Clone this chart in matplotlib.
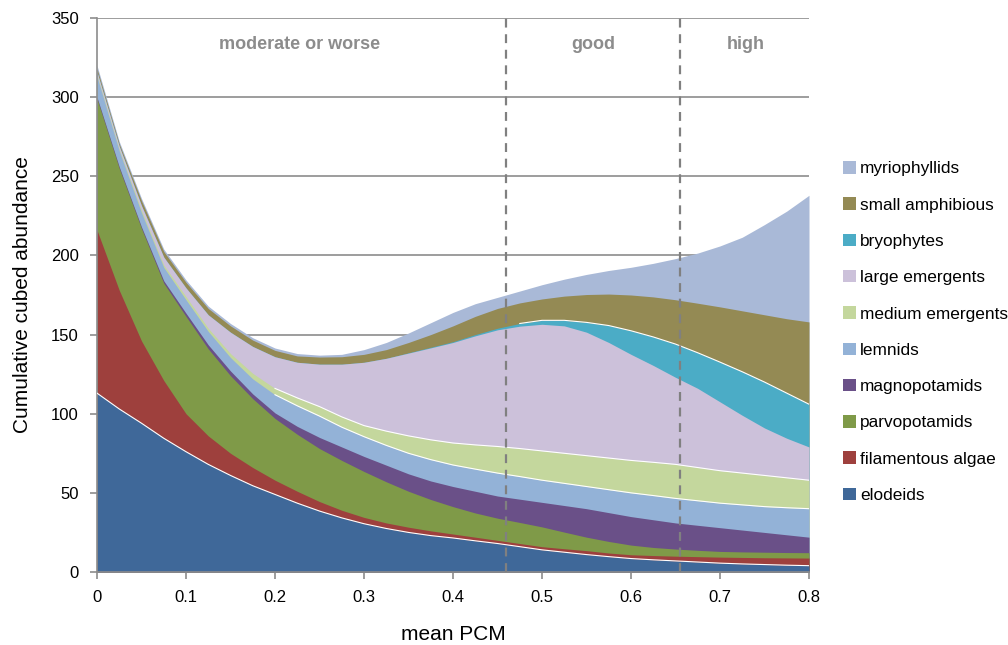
import matplotlib
matplotlib.use("Agg")
import matplotlib.pyplot as plt
import numpy as np
from matplotlib.patches import Patch

plt.rcParams['font.family'] = ['Liberation Sans', 'DejaVu Sans']

# mean PCM sample positions
pcm = [0, 0.025, 0.05, 0.075, 0.1, 0.125, 0.15, 0.175, 0.2, 0.225, 0.25,
       0.275, 0.3, 0.325, 0.35, 0.375, 0.4, 0.425, 0.45, 0.475, 0.5,
       0.525, 0.55, 0.575, 0.6, 0.625, 0.65, 0.675, 0.7, 0.725, 0.75, 0.775, 0.8]

# cumulative cubed abundance (top of each group in the stack, bottom -> top)
cum_elodeids = [113, 103, 94, 84.5, 76, 68, 61, 54.5, 49, 43.5, 38.5, 34.2, 30.5, 27.5, 25, 23, 21.5,
                19.7, 18, 16, 14, 12.5, 11, 9.7, 8.5, 7.7, 7, 6.3, 5.6, 5.1, 4.7, 4.3, 4]
cum_filamentous_algae = [216, 178, 146, 121, 100, 86, 75, 66, 58, 51, 44.5, 39, 34.5, 31, 28.3, 26, 24,
                         22, 20, 18, 16, 14.7, 13.5, 12, 10.9, 10.4, 10, 9.7, 9.4, 9.2, 9, 8.9, 8.8]
cum_parvopotamids = [299, 255, 217, 182.5, 161.5, 141, 124, 109.5, 97, 87, 78, 70.5, 63.5, 57, 51, 45.8, 41.3,
                     37.3, 34, 31.3, 28.5, 25.2, 22, 19.3, 17, 15.5, 14.5, 13.7, 13, 12.7, 12.5, 12.3, 12.2]
cum_magnopotamids = [300, 256, 218, 184, 163.5, 143.5, 127, 112.5, 100.5, 92, 85, 79, 73, 67.5, 62, 57.5, 54,
                     51, 48, 46, 44, 42, 40, 37.5, 35, 33, 31, 29.5, 28, 26.5, 25, 23.5, 22]
cum_lemnids = [313, 266, 227, 192.5, 172, 152, 135.5, 122, 112, 105, 98.5, 91.5, 85.5, 80, 75, 71, 67.6,
               65, 62.5, 60.3, 58, 56, 54, 52, 50, 48.3, 46.5, 45, 43.5, 42.4, 41.3, 40.6, 40]
cum_medium_emergents = [314, 267, 228.5, 194, 174, 154, 138, 125.5, 116, 110, 104.5, 98, 92.5, 89, 86, 83.5, 81.5,
                        80.3, 79.3, 78, 76.5, 75, 73.5, 72, 70.5, 69.3, 68, 66, 64, 62.5, 61, 59.5, 58]
cum_large_emergents = [316, 269, 231.5, 199, 179.5, 162.5, 151.5, 142.5, 136, 132.5, 131.3, 131.3, 132.5, 135,
                       138.3, 141.6, 145, 149.2, 153, 155.3, 156.5, 155.5, 151.5, 145, 137.5, 130.5, 123,
                       116, 107.5, 99, 91, 84.5, 79]
cum_bryophytes = [316, 269, 231.5, 199, 179.5, 162.5, 151.5, 142.5, 136, 132.5, 131.3, 131.3, 132.5, 135,
                  138.5, 142, 145.5, 150, 154, 157, 159, 159, 157.7, 155.7, 152.4, 148.5, 144, 138.5,
                  132.6, 126.5, 120, 113, 106]
cum_small_amphibious = [318, 270.5, 234.5, 202.5, 183, 166.5, 155.5, 146.5, 140, 136.5, 135.8, 136, 137.5, 140.5,
                        145, 150, 155.5, 161.5, 166.5, 170, 172.5, 174.3, 175.3, 175.6, 175, 173.8, 172,
                        169.8, 167.5, 165, 162.5, 160, 158]
cum_myriophyllids = [320, 272, 236, 204, 184.5, 168, 157, 148, 141.5, 138, 137, 137.5, 140.5, 145, 151, 157.5,
                     164, 169.5, 173.5, 177.5, 181.5, 185, 188, 190.5, 192.5, 195, 198, 201.5, 206, 211.5,
                     219.5, 228, 238]

series_names = ["elodeids", "filamentous algae", "parvopotamids", "magnopotamids",
                "lemnids", "medium emergents", "large emergents", "bryophytes",
                "small amphibious", "myriophyllids"]
cum_series = [cum_elodeids, cum_filamentous_algae, cum_parvopotamids, cum_magnopotamids,
              cum_lemnids, cum_medium_emergents, cum_large_emergents, cum_bryophytes,
              cum_small_amphibious, cum_myriophyllids]
colors = ["#3F6899", "#9E403D", "#7F9A48", "#6A5088", "#93B2D7",
          "#C4D79D", "#CCC1DA", "#4BACC6", "#948A54", "#A9B9D7"]

status_bounds = [0.46, 0.655]
status_labels = ["moderate or worse", "good", "high"]
status_label_x = [0.228, 0.558, 0.729]

xticks = [0, 0.1, 0.2, 0.3, 0.4, 0.5, 0.6, 0.7, 0.8]
xticklabels = ["0", "0.1", "0.2", "0.3", "0.4", "0.5", "0.6", "0.7", "0.8"]
yticks = [0, 50, 100, 150, 200, 250, 300, 350]

fig = plt.figure(figsize=(10.08, 6.45), dpi=100)
ax = fig.add_axes([97/1008, 73/645, 712/1008, 554/645])

x = np.array(pcm)
# draw from top of stack downwards, each area filled from zero to its cumulative top
n = len(cum_series)
for i in range(n - 1, -1, -1):
    ax.fill_between(x, 0, cum_series[i], color=colors[i], lw=0, zorder=2 + (n - i) * 0.01)

# thin white separators on some boundaries (where the layers are wide)
sep = [(cum_elodeids, 0.0), (cum_lemnids, 0.2), (cum_medium_emergents, 0.2),
       (cum_bryophytes, 0.47)]
for arr, xmin in sep:
    m = x >= xmin
    ax.plot(x[m], np.array(arr)[m], color="white", lw=0.8, zorder=3)

ax.set_xlim(0, 0.8)
ax.set_ylim(0, 350)
ax.set_yticks(yticks)
ax.set_xticks(xticks)
ax.set_xticklabels(xticklabels)
ax.grid(axis='y', color="#8C8C8C", lw=1.2, zorder=0)
ax.set_axisbelow(True)
for s in ["top", "right"]:
    ax.spines[s].set_visible(False)
for s in ["left", "bottom"]:
    ax.spines[s].set_color("#8C8C8C")
    ax.spines[s].set_linewidth(1.2)
ax.tick_params(axis='both', direction='out', length=5, width=1.2, color="#8C8C8C",
               labelsize=12, labelcolor="black")
ax.tick_params(axis='x', pad=8)
ax.tick_params(axis='y', pad=8)

for b in status_bounds:
    ax.axvline(b, color="#808080", lw=1.6, ls=(0, (4, 3)), zorder=4)
for lx, lab in zip(status_label_x, status_labels):
    ax.text(lx, 333.5, lab, ha="center", va="center", color="#8C8C8C",
            fontsize=13, fontweight="bold", zorder=5)

ax.set_xlabel("mean PCM", fontsize=15, labelpad=14)
ax.set_ylabel("Cumulative cubed abundance", fontsize=15, labelpad=14)

handles = [Patch(facecolor=c, edgecolor="none") for c in colors]
fig.legend(handles[::-1], series_names[::-1], loc="upper left",
           bbox_to_anchor=(836/1008, 1 - 154/645), frameon=False,
           fontsize=12.4, handlelength=0.75, handleheight=0.75,
           handletextpad=0.25, labelspacing=1.22, borderaxespad=0)

fig.savefig("out.png", dpi=100)
